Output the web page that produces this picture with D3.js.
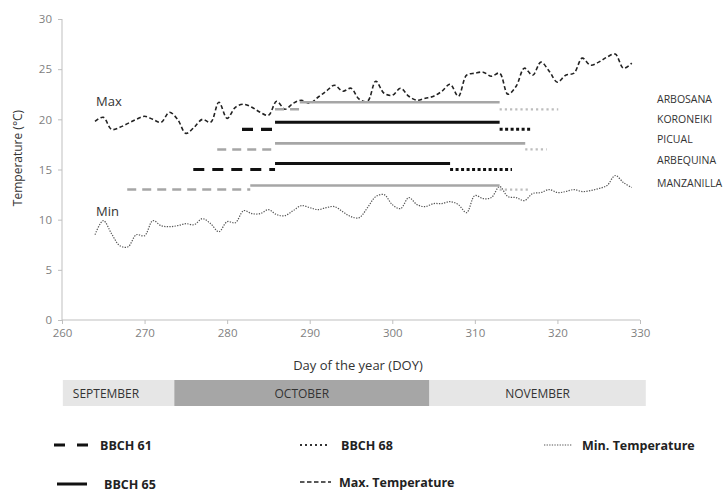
<!DOCTYPE html>
<html>
<head>
<meta charset="utf-8">
<script src="https://cdn.jsdelivr.net/npm/d3@7"></script>
<style>
  body { margin: 0; background: #fff; }
  svg { font-family: "Open Sans", "Noto Sans", sans-serif; }
  .axis path, .axis line { stroke: #bfbfbf; }
  .axis text { fill: #7f7f7f; font-size: 11.5px; font-family: "Open Sans", sans-serif; }
</style>
</head>
<body>
<div id="chart"></div>
<script>
// daily temperatures, DOY 264..329
var days = d3.range(264, 330);
var maxTemp = [19.8, 20.2, 19.0, 19.2, 19.6, 20.0, 20.3, 20.0, 19.7, 20.7,
  20.0, 18.6, 19.2, 20.0, 19.7, 21.7, 20.1, 21.2, 21.5, 21.2,
  20.7, 20.4, 21.8, 21.0, 21.6, 21.9, 21.6, 22.2, 22.8, 23.4,
  22.8, 23.1, 22.0, 21.8, 23.8, 22.6, 22.4, 23.1, 22.3, 21.9,
  22.1, 22.3, 22.8, 23.5, 22.3, 24.4, 24.6, 24.7, 24.3, 24.6,
  22.5, 23.3, 25.1, 24.4, 25.7, 24.8, 23.7, 24.4, 24.6, 26.1,
  25.4, 25.7, 26.2, 26.5, 25.1, 25.6];
var minTemp = [8.5, 9.9, 8.6, 7.4, 7.3, 8.5, 8.4, 9.9, 9.4, 9.3,
  9.4, 9.6, 9.5, 10.1, 9.6, 8.8, 9.8, 9.7, 10.9, 10.6,
  10.6, 11.0, 10.5, 10.4, 10.9, 11.4, 11.2, 11.0, 11.2, 11.3,
  10.8, 10.3, 10.2, 11.2, 12.3, 12.5, 11.5, 11.1, 12.2, 11.5,
  11.3, 11.6, 11.6, 11.8, 11.5, 10.7, 12.4, 12.1, 12.2, 13.3,
  12.3, 12.2, 11.9, 12.6, 12.7, 13.0, 12.7, 12.8, 13.0, 12.8,
  12.9, 13.1, 13.4, 14.4, 13.7, 13.2];

// flowering phases per cultivar (DOY) and the temperature level they are drawn at
var cultivars = ["ARBOSANA", "KORONEIKI", "PICUAL", "ARBEQUINA", "MANZANILLA"];
var bbch61Start = [285.8, 281.8, 278.8, 275.9, 267.9];
var bbch65Start = [288.8, 285.8, 285.8, 285.8, 282.8];
var bbch65End   = [313.0, 313.0, 316.1, 307.0, 313.0];
var bbch68End   = [320.1, 316.7, 318.7, 314.5, 316.7];
var phaseLevel  = [21.0, 19.0, 17.0, 15.0, 13.0];
var fullLevel   = [21.7, 19.7, 17.6, 15.6, 13.4];

var months = ["SEPTEMBER", "OCTOBER", "NOVEMBER"];
var monthStart = [260.1, 273.6, 304.5];
var monthEnd   = [273.6, 304.5, 330.7];

var xTicks = [260, 270, 280, 290, 300, 310, 320, 330];
var yTicks = [0, 5, 10, 15, 20, 25, 30];

var W = 725, H = 491;
var svg = d3.select("#chart").append("svg").attr("width", W).attr("height", H);

var x = d3.scaleLinear().domain([260, 330]).range([62, 640]);
var y = d3.scaleLinear().domain([0, 30]).range([320, 19]);

// axes
var yAxis = svg.append("g").attr("class", "axis")
    .attr("transform", "translate(62,0)")
    .call(d3.axisLeft(y).tickValues(yTicks).tickSize(4).tickPadding(6));
yAxis.select(".domain").attr("d", "M0," + y(30) + "V" + y(0));
var xAxis = svg.append("g").attr("class", "axis")
    .attr("transform", "translate(0,320)")
    .call(d3.axisBottom(x).tickValues(xTicks).tickSize(4).tickPadding(5));
xAxis.select(".domain").attr("d", "M" + x(260) + ",0H" + x(330));

svg.append("text").attr("transform", "translate(22,158) rotate(-90)")
    .attr("text-anchor", "middle").style("font-size", "12px").style("fill", "#333")
    .text("Temperature (°C)");
svg.append("text").attr("x", 358).attr("y", 370)
    .attr("text-anchor", "middle").style("font-size", "13px").style("fill", "#333")
    .text("Day of the year (DOY)");

// temperature curves
var line = d3.line()
    .x(function(d, i) { return x(days[i]); })
    .y(function(d) { return y(d); })
    .curve(d3.curveCatmullRom.alpha(0.5));

svg.append("path").datum(maxTemp).attr("d", line)
    .attr("fill", "none").attr("stroke", "#222").attr("stroke-width", 1.6)
    .attr("stroke-dasharray", "4,2.5");
svg.append("path").datum(minTemp).attr("d", line)
    .attr("fill", "none").attr("stroke", "#555").attr("stroke-width", 1.2)
    .attr("stroke-dasharray", "1.3,1.3");

svg.append("text").attr("x", 96).attr("y", 106).style("font-size", "13px").style("fill", "#333").text("Max");
svg.append("text").attr("x", 96).attr("y", 216).style("font-size", "13px").style("fill", "#333").text("Min");

// flowering phases
var isGray = function(i) { return i % 2 == 0; };
cultivars.forEach(function(c, i) {
  var col = isGray(i) ? "#a6a6a6" : "#111";
  svg.append("line")
      .attr("x1", x(bbch61Start[i])).attr("x2", x(bbch65Start[i]))
      .attr("y1", y(phaseLevel[i])).attr("y2", y(phaseLevel[i]))
      .attr("stroke", col).attr("stroke-width", isGray(i) ? 2.5 : 3.2)
      .attr("stroke-dasharray", isGray(i) ? "9,6" : "11,8");
  svg.append("line")
      .attr("x1", x(bbch65Start[i])).attr("x2", x(bbch65End[i]))
      .attr("y1", y(fullLevel[i])).attr("y2", y(fullLevel[i]))
      .attr("stroke", col).attr("stroke-width", isGray(i) ? 2.6 : 3);
  svg.append("line")
      .attr("x1", x(bbch65End[i])).attr("x2", x(bbch68End[i]))
      .attr("y1", y(phaseLevel[i])).attr("y2", y(phaseLevel[i]))
      .attr("stroke", isGray(i) ? "#bdbdbd" : "#111").attr("stroke-width", isGray(i) ? 2.2 : 3)
      .attr("stroke-dasharray", isGray(i) ? "2.2,3" : "3,2.5");
  svg.append("text").attr("x", 657).attr("y", y(phaseLevel[i]) - 6 + (i == 4 ? 3 : 0))
      .style("font-size", "10.5px").style("fill", "#333").text(c);
});

// month band
months.forEach(function(m, i) {
  svg.append("rect").attr("x", x(monthStart[i])).attr("y", 380)
      .attr("width", x(monthEnd[i]) - x(monthStart[i])).attr("height", 26)
      .attr("fill", i == 1 ? "#a6a6a6" : "#e6e6e6");
  var t = svg.append("text").attr("y", 397.5).style("font-size", "12px").style("fill", "#333").text(m);
  if (i == 0) t.attr("x", x(monthStart[i]) + 10);
  else t.attr("x", (x(monthStart[i]) + x(monthEnd[i])) / 2).attr("text-anchor", "middle");
});

// legend
var legendLabels = ["BBCH 61", "BBCH 65", "BBCH 68", "Max. Temperature", "Min. Temperature"];
var lg = [
  {x: 54, y: 445, tx: 100, w: 34, sw: 3.2, dash: "11,12", col: "#111"},
  {x: 57, y: 484, tx: 104, w: 30, sw: 3, dash: null, col: "#111"},
  {x: 300, y: 445, tx: 341, w: 30, sw: 2, dash: "2,3", col: "#333"},
  {x: 300, y: 482, tx: 339, w: 31, sw: 1.6, dash: "4.5,2.5", col: "#222"},
  {x: 544, y: 445, tx: 582, w: 28, sw: 1.2, dash: "1.3,1.3", col: "#555"}
];
legendLabels.forEach(function(l, i) {
  var s = lg[i];
  svg.append("line").attr("x1", s.x).attr("x2", s.x + s.w).attr("y1", s.y).attr("y2", s.y)
      .attr("stroke", s.col).attr("stroke-width", s.sw)
      .attr("stroke-dasharray", s.dash);
  svg.append("text").attr("x", s.tx).attr("y", s.y + 4.5)
      .style("font-size", "12.5px").style("font-weight", "bold").style("fill", "#222").text(l);
});
</script>
</body>
</html>
